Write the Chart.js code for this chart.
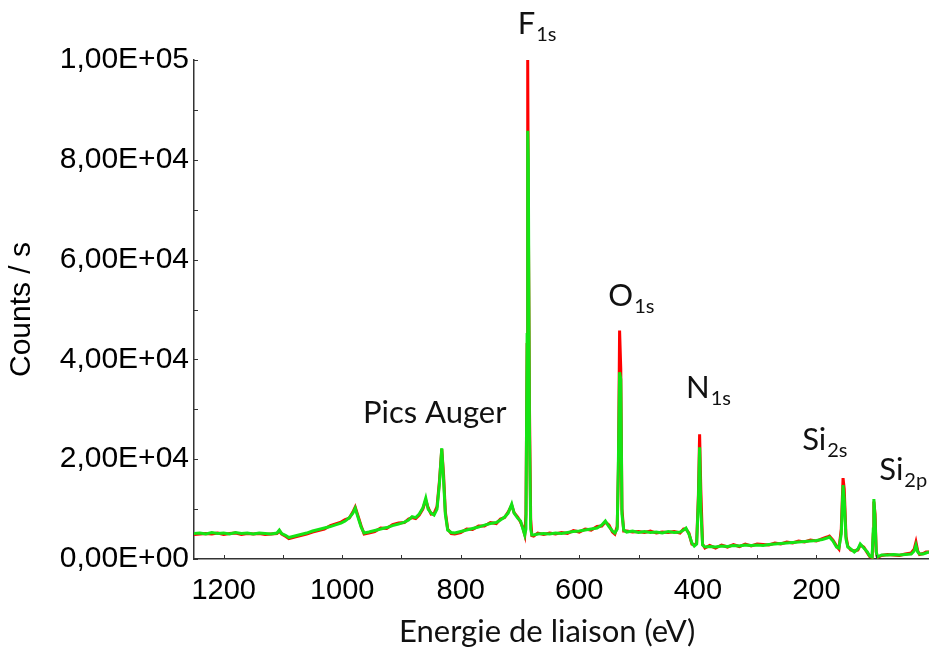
<!DOCTYPE html>
<html lang="fr">
<head>
    <meta charset="UTF-8">
    <title>Spectre XPS</title>
    <script src="https://cdn.jsdelivr.net/npm/chart.js@4.4.1/dist/chart.umd.min.js"></script>
    <style>
        body { margin: 0; background: #fff; }
        canvas { display: block; }
    </style>
</head>
<body>
<canvas id="canvas" width="929" height="655"></canvas>
<script>

    // energie de liaison (eV)
    var energy = [
        1250, 1240, 1230, 1220, 1210, 1200, 1190, 1180, 1170, 1160, 1150, 1140, 1130, 1120, 1110,
        1106, 1102, 1095, 1090, 1080, 1070, 1060, 1050, 1040, 1030, 1020, 1010, 1002, 995, 988, 982, 978, 974, 968, 963,
        955, 945, 935, 925, 915, 905, 895, 888, 882, 876, 870, 864, 859, 855, 850, 845, 840, 836, 832, 829, 826, 822, 816,
        810, 800, 790, 780, 770, 760, 750, 740, 733, 726, 720, 714, 710, 704, 699, 695, 692,
        690, 688, 687, 686, 684, 682, 680, 677,
        670, 660, 650, 640, 630, 620, 610, 600, 590, 580, 570, 562, 556, 550, 544, 540, 536,
        534, 532, 530, 528, 525,
        520, 510, 500, 490, 480, 470, 460, 450, 440, 430, 424, 420, 415, 410, 406, 402,
        399, 397, 395, 392, 388,
        380, 370, 360, 350, 340, 330, 320, 310, 300, 290, 280, 270, 260, 250, 240, 230, 220, 210, 200, 190, 182, 178, 172, 166, 162,
        158, 155, 153, 150, 147,
        142, 136, 130, 126, 120, 114, 110, 106,
        104, 103, 101, 99, 97,
        90, 80, 70, 60, 50, 40, 35, 32, 29, 26, 20, 15, 10
    ];

    // courbe verte (counts / s)
    var greenCounts = [
        5100, 5200, 5000, 5300, 5100, 5200, 5000, 5300, 5100, 5200, 5000, 5200, 5100, 5000, 5200,
        5800, 5100, 4700, 4300, 4600, 4900, 5200, 5600, 5900, 6200, 6500, 6900, 7200, 7600, 8300, 9200, 10200, 8600, 6400, 5200,
        5400, 5700, 6000, 6300, 6700, 7000, 7400, 7800, 8500, 8300, 9000, 10200, 12200, 10000, 9200, 8800, 10000, 15000, 22200, 16000, 9000, 5800, 5300,
        5200, 5500, 5800, 6100, 6400, 6800, 7100, 7300, 7800, 8400, 9200, 11000, 9200, 8200, 7600, 6000, 4800,
        6000, 45000, 85800, 80000, 25000, 6000, 4800, 4800,
        5000, 5100, 5000, 5200, 5100, 5300, 5500, 5600, 5800, 6000, 6200, 6800, 7600, 6500, 5600, 5200, 6000,
        20000, 37400, 36000, 9000, 5800,
        5400, 5600, 5300, 5500, 5300, 5400, 5200, 5500, 5300, 5400, 5800, 6200, 5000, 3200, 2600, 3000,
        12000, 22400, 10000, 2800, 2400,
        2500, 2400, 2600, 2500, 2700, 2600, 2800, 2700, 2800, 2700, 2900, 3000, 3100, 3200, 3300, 3400, 3500, 3600, 3700, 3900, 4200, 4400, 3600, 2400, 2200,
        5000, 14800, 12000, 4000, 2400,
        2000, 1400, 2000, 3000, 2200, 1400, 600, 400,
        6000, 12000, 8000, 1500, 400,
        800, 800, 900, 800, 900, 1000, 1600, 2800, 1400, 1000, 1000, 1200, 1400
    ];

    // courbe rouge (counts / s)
    var redCounts = [
        4900, 5000, 5100, 5000, 5200, 4900, 5100, 5200, 4900, 5100, 5000, 5100, 4900, 5000, 5100,
        5600, 5000, 4500, 4100, 4400, 4700, 5000, 5400, 5700, 6000, 6700, 7100, 7400, 7900, 8200, 9400, 10400, 8900, 6600, 5000,
        5200, 5500, 6200, 6100, 6900, 7200, 7300, 8000, 8300, 8100, 8800, 10000, 11800, 10300, 9000, 9100, 10500, 15500, 22000, 17000, 9500, 6000, 5100,
        5000, 5300, 6000, 5900, 6600, 6600, 7300, 7100, 8000, 8300, 9400, 10800, 9300, 8400, 7400, 6200, 4900,
        9000, 43000, 100000, 70000, 30000, 8000, 4700, 4600,
        5200, 4900, 5200, 5000, 5300, 5100, 5700, 5400, 6000, 5800, 6500, 6600, 7400, 6800, 5400, 5000, 6500,
        18000, 45800, 38000, 10000, 5600,
        5600, 5400, 5500, 5300, 5600, 5200, 5400, 5300, 5500, 5200, 6000, 6000, 5200, 3000, 2800, 3200,
        13000, 25000, 14000, 3000, 2200,
        2700, 2200, 2800, 2400, 2900, 2500, 3000, 2600, 3000, 2900, 2800, 3200, 3000, 3400, 3200, 3600, 3400, 3800, 3600, 4100, 4400, 4600, 3800, 2600, 2000,
        6000, 16200, 14000, 4500, 2600,
        1800, 1600, 1800, 2800, 2400, 1200, 500, 300,
        5000, 11500, 9000, 1400, 300,
        700, 900, 800, 700, 1000, 1200, 2000, 3400, 1600, 900, 1100, 1400, 1400
    ];

    var xTickLabels = [1200, 1000, 800, 600, 400, 200];
    var yTickLabels = [0, 20000, 40000, 60000, 80000, 100000];

    // etiquettes des pics : texte, indice, position (eV, counts) du coin bas-gauche
    var peakNames = ['F', 'O', 'N', 'Si', 'Si', 'Pics Auger'];
    var peakSubs = ['1s', '1s', '1s', '2s', '2p', ''];
    var peakEnergy = [704, 551, 420, 224, 94, 965];
    var peakCounts = [105200, 50800, 32200, 21800, 15800, 27200];

    function toPoints(ys) {
        return energy.map(function(e, i) { return {x: e, y: ys[i]}; });
    }

    function sciLabel(v) {
        var exp = v === 0 ? 0 : Math.floor(Math.log10(v) + 1e-9);
        var mant = v / Math.pow(10, exp);
        return mant.toFixed(2).replace('.', ',') + 'E+' + (exp < 10 ? '0' + exp : exp);
    }

    var innerTicks = {
        id: 'innerTicks',
        afterDraw: function(chart) {
            var ctx = chart.ctx, xs = chart.scales.x, ys = chart.scales.y;
            ctx.save();
            ctx.strokeStyle = '#333';
            ctx.lineWidth = 1;
            ctx.beginPath();
            xs.ticks.forEach(function(t) {
                var px = Math.round(xs.getPixelForValue(t.value)) + 0.5;
                ctx.moveTo(px, ys.bottom);
                ctx.lineTo(px, ys.bottom - 4);
            });
            ys.ticks.forEach(function(t) {
                var py = Math.round(ys.getPixelForValue(t.value)) + 0.5;
                ctx.moveTo(xs.left, py);
                ctx.lineTo(xs.left + 4, py);
            });
            ctx.stroke();
            ctx.restore();
        }
    };

    var peakLabels = {
        id: 'peakLabels',
        afterDraw: function(chart) {
            var ctx = chart.ctx, xs = chart.scales.x, ys = chart.scales.y;
            ctx.save();
            ctx.fillStyle = '#111';
            ctx.textBaseline = 'alphabetic';
            ctx.textAlign = 'left';
            for (var i = 0; i < peakNames.length; i++) {
                var px = xs.getPixelForValue(peakEnergy[i]);
                var py = ys.getPixelForValue(peakCounts[i]);
                ctx.font = '31px Lato';
                ctx.fillText(peakNames[i], px, py);
                if (peakSubs[i]) {
                    var w = ctx.measureText(peakNames[i]).width;
                    ctx.font = '20px Lato';
                    ctx.fillText(peakSubs[i], px + w + 1, py + 7);
                }
            }
            // titre de l'axe x, un peu a gauche du centre comme sur la figure
            ctx.font = '31px Lato';
            ctx.textAlign = 'center';
            ctx.textBaseline = 'middle';
            ctx.fillText('Energie de liaison (eV)', chart.width * 0.589, chart.height - 23);
            ctx.restore();
        }
    };

    window.onload = function() {
        var ctx = document.getElementById('canvas').getContext('2d');
        window.myChart = new Chart(ctx, {
            type: 'line',
            data: {
                datasets: [{
                    label: 'rouge',
                    data: toPoints(redCounts),
                    borderColor: '#ff0000',
                    borderWidth: 3,
                    pointRadius: 0,
                    tension: 0,
                    order: 2
                }, {
                    label: 'vert',
                    data: toPoints(greenCounts),
                    borderColor: 'rgb(20,228,20)',
                    borderWidth: 3,
                    pointRadius: 0,
                    tension: 0,
                    order: 1
                }]
            },
            options: {
                responsive: false,
                animation: false,
                layout: {padding: {top: 60, right: 0, left: 0, bottom: 0}},
                plugins: {legend: {display: false}, tooltip: {enabled: false}},
                scales: {
                    x: {
                        type: 'linear',
                        reverse: true,
                        min: 10,
                        max: 1250,
                        grid: {display: false, drawTicks: false},
                        border: {display: true, color: '#333', width: 1.5},
                        afterFit: function(scale) { scale.height = 96; },
                        ticks: {
                            stepSize: 100,
                            includeBounds: false,
                            autoSkip: false,
                            maxRotation: 0,
                            padding: 15,
                            color: '#000',
                            font: {family: 'Liberation Sans', size: 29},
                            callback: function(v) { return xTickLabels.indexOf(v) >= 0 ? String(v) : ''; }
                        }
                    },
                    y: {
                        min: 0,
                        max: 100000,
                        grid: {display: false, drawTicks: false},
                        border: {display: true, color: '#333', width: 1.5},
                        afterFit: function(scale) { scale.width = 194; },
                        ticks: {
                            stepSize: 10000,
                            autoSkip: false,
                            padding: 5,
                            color: '#000',
                            font: {family: 'Liberation Sans', size: 30},
                            callback: function(v) { return yTickLabels.indexOf(v) >= 0 ? sciLabel(v) : ''; }
                        },
                        title: {
                            display: true,
                            text: 'Counts / s',
                            color: '#000',
                            font: {family: 'Liberation Sans', size: 30},
                            padding: {top: 4, bottom: 0}
                        }
                    }
                }
            },
            plugins: [innerTicks, peakLabels]
        });
    };
</script>
</body>
</html>
